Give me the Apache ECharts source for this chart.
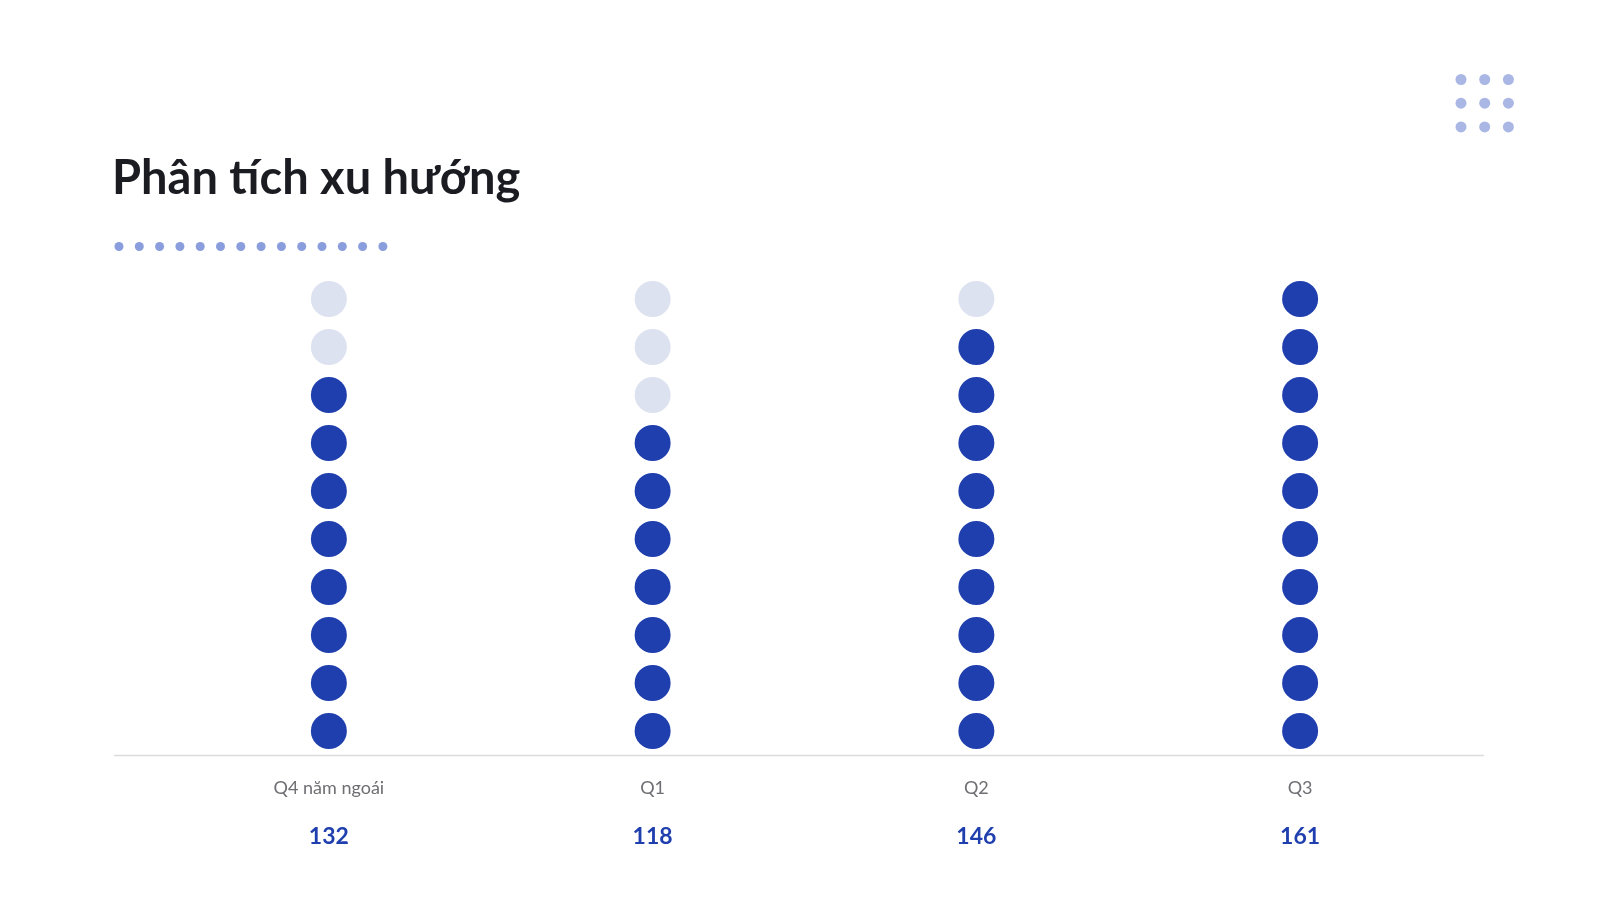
<!DOCTYPE html>
<html>
<head>
<meta charset="utf-8">
<script src="https://cdn.jsdelivr.net/npm/echarts@6/dist/echarts.min.js"></script>
<style>
html,body{margin:0;padding:0;background:#ffffff;}
#chart{width:1598px;height:900px;}
</style>
</head>
<body>
<div id="chart"></div>
<script>
const title = 'Phân tích xu hướng';
const categories = ['Q4 năm ngoái', 'Q1', 'Q2', 'Q3'];
const values = [132, 118, 146, 161];
const dotsPerColumn = 10;

const maxVal = Math.max.apply(null, values);
const filledData = [];
const emptyData = [];
values.forEach(function (v, ci) {
  const n = Math.round(v / maxVal * dotsPerColumn);
  for (let k = 0; k < dotsPerColumn; k++) {
    if (k < n) filledData.push([ci, k]); else emptyData.push([ci, k]);
  }
});

const FONT = 'Lato, "Noto Sans", sans-serif';
const chart = echarts.init(document.getElementById('chart'));

const graphics = [];
// title
graphics.push({
  type: 'text', left: 112, top: 155,
  style: { text: title, font: 'bold 47px ' + FONT, fill: '#1b1c22' }
});
// decorative dotted underline
for (let i = 0; i < 14; i++) {
  graphics.push({ type: 'circle', shape: { cx: 119 + i * 20.3, cy: 246.5, r: 4.5 }, style: { fill: '#8a9edd' } });
}
// decorative grid top-right
for (let r = 0; r < 3; r++) {
  for (let c = 0; c < 3; c++) {
    graphics.push({ type: 'circle', shape: { cx: 1461 + c * 23.7, cy: 79.5 + r * 23.7, r: 5.5 }, style: { fill: '#aab7e5' } });
  }
}
// baseline
graphics.push({ type: 'line', shape: { x1: 114, y1: 755.5, x2: 1484, y2: 755.5 }, style: { stroke: '#dcdcdc', lineWidth: 1.5 } });

chart.setOption({
  backgroundColor: '#ffffff',
  animation: false,
  grid: { left: 167, right: 136, top: 275, bottom: 145 },
  xAxis: {
    type: 'category',
    data: categories,
    axisLine: { show: false },
    axisTick: { show: false },
    splitLine: { show: false },
    axisLabel: {
      margin: 9,
      formatter: function (val, idx) {
        return '{n|' + val + '}\n{v|' + values[idx] + '}';
      },
      rich: {
        n: { fontFamily: FONT, fontSize: 18, color: '#6e6e73', lineHeight: 48 },
        v: { fontFamily: FONT, fontSize: 23, fontWeight: 'bold', color: '#1f3fae', lineHeight: 49 }
      }
    }
  },
  yAxis: {
    type: 'value', min: -0.5, max: 9.5, show: false,
    splitLine: { show: false }
  },
  series: [
    {
      type: 'scatter', data: emptyData, symbol: 'circle', symbolSize: 36,
      itemStyle: { color: '#dde2f1', opacity: 1 }, silent: true
    },
    {
      type: 'scatter', data: filledData, symbol: 'circle', symbolSize: 36,
      itemStyle: { color: '#1f3fae', opacity: 1 }, silent: true
    }
  ],
  graphic: graphics
});
</script>
</body>
</html>
